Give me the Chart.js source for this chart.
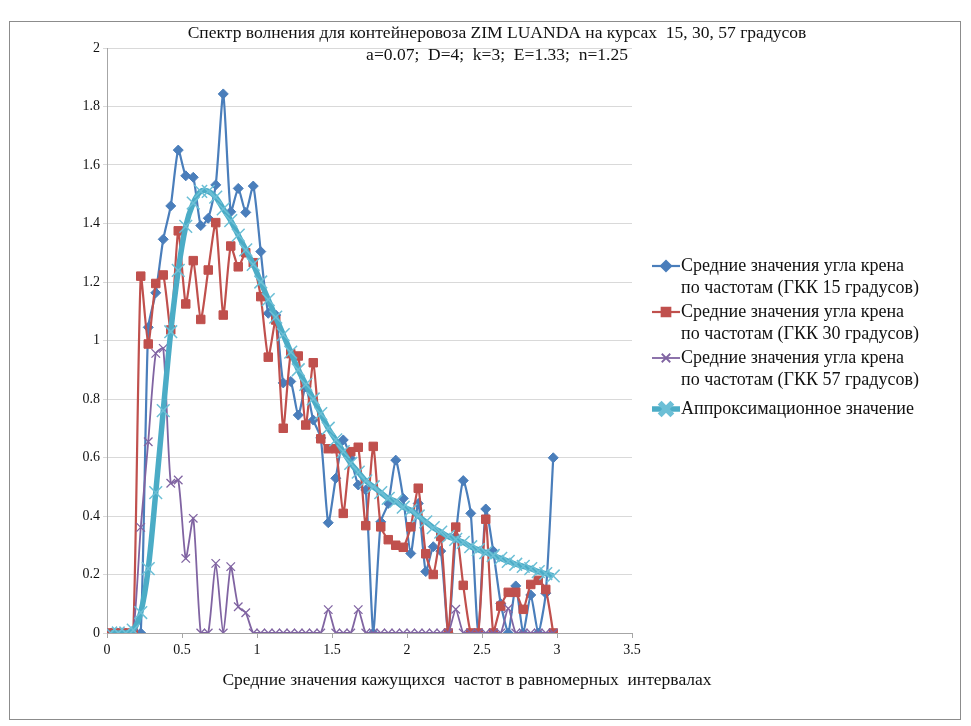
<!DOCTYPE html>
<html>
<head>
<meta charset="utf-8">
<script src="https://cdn.jsdelivr.net/npm/chart.js@4.4.1/dist/chart.umd.min.js"></script>
<style>
  html, body { margin: 0; padding: 0; background: #fff; }
</style>
</head>
<body>
<canvas id="spectrum" width="971" height="726"></canvas>
<script>
// mean frequency of each uniform interval
const freqs = [
  0.025, 0.075, 0.125, 0.175, 0.225, 0.275, 0.325, 0.375, 0.425, 0.475,
  0.525, 0.575, 0.625, 0.675, 0.725, 0.775, 0.825, 0.875, 0.925, 0.975,
  1.025, 1.075, 1.125, 1.175, 1.225, 1.275, 1.325, 1.375, 1.425, 1.475,
  1.525, 1.575, 1.625, 1.675, 1.725, 1.775, 1.825, 1.875, 1.925, 1.975,
  2.025, 2.075, 2.125, 2.175, 2.225, 2.275, 2.325, 2.375, 2.425, 2.475,
  2.525, 2.575, 2.625, 2.675, 2.725, 2.775, 2.825, 2.875, 2.925, 2.975
];

const roll15 = [
  0, 0, 0, 0, 0,
  1.045, 1.163, 1.346, 1.46, 1.651,
  1.563, 1.558, 1.393, 1.418, 1.532,
  1.843, 1.44, 1.52, 1.438, 1.528,
  1.304, 1.093, 1.087, 0.855, 0.86,
  0.745, 0.842, 0.728, 0.667, 0.377,
  0.529, 0.66, 0.597, 0.506, 0.489,
  0, 0.38, 0.443, 0.591, 0.46,
  0.272, 0.443, 0.21, 0.295, 0.28,
  0, 0.33, 0.521, 0.409, 0,
  0.424, 0.28, 0.1, 0, 0.161,
  0, 0.13, 0, 0.136, 0.599
];

const roll30 = [
  0, 0, 0, 0, 1.22,
  0.988, 1.195, 1.224, 1.036, 1.375,
  1.125, 1.273, 1.072, 1.241, 1.403,
  1.087, 1.323, 1.252, 1.3, 1.266,
  1.15, 0.943, 1.07, 0.70, 0.955,
  0.947, 0.711, 0.924, 0.664, 0.63,
  0.63, 0.409, 0.62, 0.635, 0.367,
  0.638, 0.363, 0.319, 0.30, 0.293,
  0.363, 0.495, 0.271, 0.2, 0.33,
  0, 0.362, 0.163, 0, 0,
  0.389, 0, 0.092, 0.139, 0.139,
  0.081, 0.166, 0.18, 0.149, 0
];

const roll57 = [
  0, 0, 0, 0, 0.361,
  0.654, 0.956, 0.973, 0.512, 0.523,
  0.255, 0.392, 0, 0, 0.238,
  0, 0.227, 0.09, 0.069, 0,
  0, 0, 0, 0, 0, 0, 0, 0, 0, 0.08,
  0, 0, 0, 0.08, 0,
  0, 0, 0, 0, 0, 0, 0, 0, 0, 0,
  0, 0.081, 0, 0, 0,
  0, 0, 0, 0.084, 0,
  0, 0, 0, 0, 0
];

const approx = [
  0, 0, 0, 0.01, 0.07, 0.22, 0.48, 0.76, 1.03, 1.24,
  1.39, 1.47, 1.51, 1.51, 1.49, 1.45, 1.41, 1.36, 1.31, 1.26,
  1.20, 1.14, 1.08, 1.02, 0.96, 0.90, 0.85, 0.80, 0.75, 0.70,
  0.66, 0.62, 0.58, 0.55, 0.52, 0.50, 0.48, 0.46, 0.45, 0.43,
  0.42, 0.40, 0.38, 0.36, 0.345, 0.33, 0.32, 0.31, 0.295, 0.285,
  0.275, 0.265, 0.255, 0.245, 0.235, 0.228, 0.22, 0.21, 0.203, 0.195
];

const seriesNames = [
  ['Средние значения угла крена', 'по частотам (ГКК 15 градусов)'],
  ['Средние значения угла крена', 'по частотам (ГКК 30 градусов)'],
  ['Средние значения угла крена', 'по частотам (ГКК 57 градусов)'],
  ['Аппроксимационное значение']
];

const titleText = 'Спектр волнения для контейнеровоза ZIM LUANDA на курсах  15, 30, 57 градусов';
const subtitleText = 'a=0.07;  D=4;  k=3;  E=1.33;  n=1.25';
const xTitleText = 'Средние значения кажущихся  частот в равномерных  интервалах';

const serif = '"Liberation Serif", "DejaVu Serif", serif';
const colors = ['#4a7ebb', '#c0504d', '#8064a2', '#4bacc6'];

const pts = ys => freqs.map((x, i) => ({ x: x, y: ys[i] }));

// frame, titles and an Excel-like legend (line with marker in the middle)
const decor = {
  id: 'decor',
  beforeDraw(chart) {
    const c = chart.ctx;
    c.save();
    c.fillStyle = '#fff';
    c.fillRect(0, 0, chart.width, chart.height);
    c.strokeStyle = '#8c8c8c';
    c.lineWidth = 1;
    c.strokeRect(9.5, 21.5, 951, 698);
    c.restore();
  },
  afterDraw(chart) {
    const c = chart.ctx;
    c.save();
    c.fillStyle = '#111';
    c.textAlign = 'center';
    c.textBaseline = 'middle';
    c.font = '17.5px ' + serif;
    c.fillText(titleText, 497, 33);
    c.fillText(subtitleText, 497, 55);
    c.fillText(xTitleText, 467, 680);

    const rows = [266, 312, 358, 409];
    c.textAlign = 'left';
    c.font = '18px ' + serif;
    chart.data.datasets.forEach((ds, i) => {
      const y = rows[i];
      c.strokeStyle = ds.borderColor;
      c.lineWidth = ds.borderWidth;
      c.beginPath();
      c.moveTo(652, y);
      c.lineTo(680, y);
      c.stroke();
      c.fillStyle = ds.pointBackgroundColor;
      c.strokeStyle = ds.pointBorderColor;
      Chart.helpers.drawPoint(c, {
        pointStyle: ds.pointStyle,
        radius: ds.pointRadius,
        borderWidth: ds.pointBorderWidth,
        rotation: 0
      }, 666, y);
      c.fillStyle = '#111';
      seriesNames[i].forEach((line, k) => c.fillText(line, 681, y + k * 22));
    });
    c.restore();
  }
};

const ctx = document.getElementById('spectrum').getContext('2d');
new Chart(ctx, {
  type: 'line',
  data: {
    datasets: [
      {
        label: seriesNames[0].join(' '),
        data: pts(roll15),
        borderColor: colors[0],
        borderWidth: 2.2,
        pointStyle: 'rectRot',
        pointRadius: 5,
        pointBackgroundColor: colors[0],
        pointBorderColor: colors[0],
        pointBorderWidth: 1,
        tension: 0.2,
        order: 4
      },
      {
        label: seriesNames[1].join(' '),
        data: pts(roll30),
        borderColor: colors[1],
        borderWidth: 2.2,
        pointStyle: 'rect',
        pointRadius: 6,
        pointBackgroundColor: colors[1],
        pointBorderColor: colors[1],
        pointBorderWidth: 1,
        tension: 0.2,
        order: 3
      },
      {
        label: seriesNames[2].join(' '),
        data: pts(roll57),
        borderColor: colors[2],
        borderWidth: 1.8,
        pointStyle: 'crossRot',
        pointRadius: 6,
        pointBackgroundColor: colors[2],
        pointBorderColor: colors[2],
        pointBorderWidth: 1.3,
        tension: 0.2,
        order: 2
      },
      {
        label: seriesNames[3][0],
        data: pts(approx),
        borderColor: colors[3],
        borderWidth: 5.5,
        pointStyle: 'crossRot',
        pointRadius: 9,
        pointBackgroundColor: '#7fc6da',
        pointBorderColor: '#6cbfd6',
        pointBorderWidth: 1.5,
        tension: 0.3,
        order: 1
      }
    ]
  },
  options: {
    responsive: false,
    animation: false,
    layout: { padding: { top: 48, right: 339, left: 0, bottom: 0 } },
    plugins: {
      legend: { display: false },
      tooltip: { enabled: false }
    },
    scales: {
      x: {
        type: 'linear',
        min: 0,
        max: 3.5,
        ticks: {
          stepSize: 0.5,
          color: '#111',
          padding: 4,
          font: { family: serif, size: 14 },
          callback: v => String(+v.toFixed(1))
        },
        grid: { drawOnChartArea: false, drawTicks: true, tickLength: 5, color: '#a6a6a6' },
        border: { color: '#a6a6a6' },
        afterFit: s => { s.height = 93; }
      },
      y: {
        min: 0,
        max: 2,
        ticks: {
          stepSize: 0.2,
          color: '#111',
          padding: 3,
          font: { family: serif, size: 14 },
          callback: v => String(+v.toFixed(1))
        },
        grid: { color: '#d9d9d9', tickLength: 4 },
        border: { color: '#a6a6a6' },
        afterFit: s => { s.width = 107; }
      }
    }
  },
  plugins: [decor]
});
</script>
</body>
</html>
